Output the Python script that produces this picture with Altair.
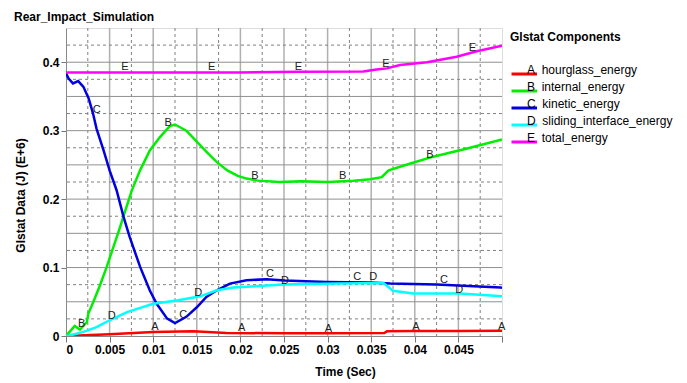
import altair as alt
import pandas as pd

# ---- data ----
series_names = ["hourglass_energy", "internal_energy", "kinetic_energy",
                "sliding_interface_energy", "total_energy"]
letters = ["A", "B", "C", "D", "E"]
colors = ["#ff0000", "#00ee00", "#0000e0", "#00ffff", "#ff00ff"]

t_A = [0, 0.005, 0.01, 0.0146, 0.0184, 0.025, 0.03, 0.0365, 0.0368, 0.04, 0.045, 0.05]
v_A = [0, 0.0025, 0.006, 0.007, 0.0044, 0.004, 0.004, 0.0044, 0.0068, 0.0072, 0.0073, 0.0075]

t_B = [0, 0.001, 0.0016, 0.0024, 0.00256, 0.00313, 0.0039, 0.00467, 0.00543, 0.0062,
       0.00657, 0.00753, 0.00849, 0.00963, 0.0108, 0.0119, 0.0125, 0.0138, 0.015,
       0.0162, 0.0173, 0.0185, 0.0197, 0.0207, 0.022, 0.0245, 0.027, 0.03, 0.033,
       0.0349, 0.0362, 0.037, 0.0395, 0.0421, 0.046, 0.05]
v_B = [0, 0.0146, 0.0093, 0.0205, 0.0327, 0.0497, 0.0741, 0.1009, 0.130, 0.159,
       0.174, 0.212, 0.242, 0.2715, 0.291, 0.3066, 0.309, 0.300, 0.284,
       0.268, 0.254, 0.242, 0.234, 0.230, 0.227, 0.225, 0.226, 0.225, 0.227,
       0.229, 0.232, 0.242, 0.252, 0.262, 0.274, 0.287]

t_C = [0, 0.0003, 0.0008, 0.0014, 0.002, 0.0026, 0.0031, 0.0035, 0.0043, 0.005,
       0.0058, 0.0066, 0.0073, 0.0085, 0.0096, 0.0104, 0.0116, 0.0125, 0.0138,
       0.015, 0.0161, 0.0173, 0.0188, 0.0207, 0.023, 0.0251, 0.0299, 0.0349,
       0.0372, 0.0425, 0.0498, 0.05]
v_C = [0.384, 0.376, 0.369, 0.3724, 0.364, 0.347, 0.325, 0.303, 0.2715, 0.242,
       0.213, 0.174, 0.1447, 0.101, 0.0668, 0.047, 0.0254, 0.019, 0.028,
       0.042, 0.057, 0.0668, 0.0766, 0.0814, 0.0830, 0.0810, 0.079, 0.078,
       0.0766, 0.0751, 0.0708, 0.0705]

t_D = [0, 0.0005, 0.002, 0.0035, 0.005, 0.007, 0.01, 0.0127, 0.0154, 0.0173,
       0.0192, 0.0222, 0.0249, 0.0275, 0.0314, 0.034, 0.0364, 0.0375, 0.0398,
       0.0452, 0.05]
v_D = [0, 0.001, 0.006, 0.013, 0.023, 0.035, 0.047, 0.052, 0.058, 0.0668,
       0.0708, 0.073, 0.0751, 0.0758, 0.0766, 0.077, 0.0775, 0.066, 0.062,
       0.062, 0.058]

t_E = [0, 0.01, 0.02, 0.0268, 0.0341, 0.0356, 0.0368, 0.0383, 0.0414, 0.0448, 0.0471, 0.05]
v_E = [0.385, 0.385, 0.385, 0.386, 0.3865, 0.3895, 0.391, 0.3958, 0.400, 0.408, 0.416, 0.424]

# curve letter labels (position of each letter)
lab_letter = ["E"] * 5 + ["B"] * 5 + ["C"] * 5 + ["D"] * 5 + ["A"] * 5
lab_t = [0.00677, 0.01671, 0.02664, 0.0367, 0.0466,
         0.0018, 0.01173, 0.02167, 0.03173, 0.04174,
         0.00352, 0.01345, 0.02339, 0.0334, 0.04335,
         0.00524, 0.01517, 0.02511, 0.03524, 0.0451,
         0.01021, 0.02015, 0.03008, 0.04014, 0.04997]
lab_v = [0.3933, 0.3933, 0.3933, 0.3972, 0.4202,
         0.0171, 0.3114, 0.2335, 0.2335, 0.2642,
         0.330, 0.0313, 0.0902, 0.0863, 0.0814,
         0.0288, 0.0629, 0.0804, 0.0863, 0.0678,
         0.0132, 0.0123, 0.0108, 0.0132, 0.0132]

x_ticks = [round(i * 0.0025, 4) for i in range(21)]
y_ticks = [round(i * 0.025, 3) for i in range(19)]
x_grid_major = [round(i * 0.005, 4) for i in range(1, 10)]
x_grid_minor = [round(0.0025 + i * 0.005, 4) for i in range(10)]
y_grid_major = [round(i * 0.05, 3) for i in range(1, 9)]
y_grid_minor = [round(0.025 + i * 0.05, 3) for i in range(9)]

# ---- build tables ----
NB = "\u00a0"
rows = []
legend_labels = []
for letter, name, ts, vs in zip(letters, series_names,
                                [t_A, t_B, t_C, t_D, t_E],
                                [v_A, v_B, v_C, v_D, v_E]):
    label = f"{letter}{NB}{NB}{name}"
    legend_labels.append(label)
    for t, v in zip(ts, vs):
        rows.append({"series": label, "t": t, "v": v})
df = pd.DataFrame(rows)
df_lab = pd.DataFrame({"letter": lab_letter, "t": lab_t, "v": lab_v})

FONT = "Liberation Sans"
x_scale = alt.Scale(domain=[0, 0.05], nice=False, zero=False)
y_scale = alt.Scale(domain=[0, 0.45], nice=False)

x_minor = "round(datum.value*400) % 2 == 1"

x_axis = alt.Axis(
    values=x_ticks,
    labelExpr="(round(datum.value*400) % 2 == 0 && datum.value < 0.049) ? format(datum.value, '~g') : ''",
    labelOverlap=False,
    labelFont=FONT, labelFontSize=12, labelFontWeight="bold", labelColor="#000",
    labelPadding=2,
    tickSize=6,
    tickColor={"condition": {"test": x_minor, "value": "transparent"}, "value": "#777"},
    grid=False,
    domainColor="#888",
    title="Time (Sec)", titleFont=FONT, titleFontSize=12, titleFontWeight="bold",
    titleColor="#000", titleX=279, titleY=39, titleBaseline="alphabetic",
    titleAlign="center",
)
y_axis = alt.Axis(
    values=y_ticks,
    labelExpr="(round(datum.value*40) % 2 == 0 && datum.value < 0.44) ? format(datum.value, '~g') : ''",
    labelOverlap=False,
    labelFont=FONT, labelFontSize=12, labelFontWeight="bold", labelColor="#000",
    labelPadding=2,
    tickSize=5, tickColor="#777",
    grid=False,
    domainColor="#888",
    title="Glstat Data (J) (E+6)", titleFont=FONT, titleFontSize=12,
    titleFontWeight="bold", titleColor="#000",
    titleX=-46, titleY=167, titleAngle=270, titleAlign="center", titleBaseline="middle",
)

legend = alt.Legend(
    orient="none", legendX=444, legendY=4,
    title="Glstat Components", titleFont=FONT, titleFontSize=12,
    titleFontWeight="bold", titleColor="#000", titlePadding=24,
    symbolType="M-1.5,0H7", symbolSize=36, symbolStrokeWidth=3,
    labelOffset=5, labelBaseline="alphabetic",
    labelFont=FONT, labelFontSize=12, labelColor="#000",
    rowPadding=1, padding=0,
)

grid_xM = alt.Chart(pd.DataFrame({"t": x_grid_major})).mark_rule(
    color="#b0b0b0", strokeWidth=1.5).encode(x=alt.X("t:Q", scale=x_scale))
grid_xm = alt.Chart(pd.DataFrame({"t": x_grid_minor})).mark_rule(
    color="#808080", strokeWidth=1, strokeDash=[3, 3]).encode(x=alt.X("t:Q", scale=x_scale))
grid_yM = alt.Chart(pd.DataFrame({"v": y_grid_major})).mark_rule(
    color="#909090", strokeWidth=1).encode(y=alt.Y("v:Q", scale=y_scale))
grid_ym = alt.Chart(pd.DataFrame({"v": y_grid_minor})).mark_rule(
    color="#808080", strokeWidth=1, strokeDash=[3, 3]).encode(y=alt.Y("v:Q", scale=y_scale))

lines = alt.Chart(df).mark_line(strokeWidth=2.5, clip=True).encode(
    x=alt.X("t:Q", scale=x_scale, axis=x_axis),
    y=alt.Y("v:Q", scale=y_scale, axis=y_axis),
    color=alt.Color("series:N", scale=alt.Scale(domain=legend_labels, range=colors),
                    legend=legend),
)

texts = alt.Chart(df_lab).mark_text(
    font=FONT, fontSize=11, color="#222", baseline="middle", align="center"
).encode(x="t:Q", y="v:Q", text="letter:N")

chart = alt.layer(grid_xM, grid_xm, grid_yM, grid_ym, lines, texts).properties(
    width=436, height=308,
    title=alt.TitleParams("Rear_Impact_Simulation", anchor="start", font=FONT,
                          fontSize=12, fontWeight="bold", color="#000", offset=3),
    autosize=alt.AutoSizeParams(type="none"),
    padding={"left": 66, "top": 28, "right": 185, "bottom": 47},
).configure_view(stroke="#888", strokeWidth=1).configure(background="white")

chart.save("out.html", embed_options={"renderer": "svg", "actions": False})
